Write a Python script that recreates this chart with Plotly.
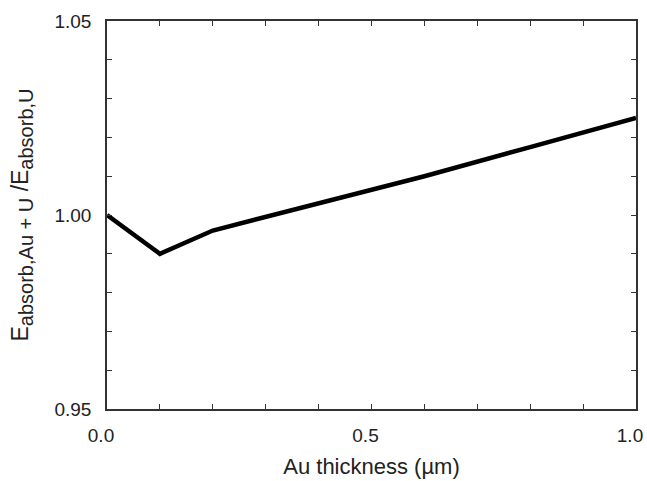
import plotly.graph_objects as go

thickness_um = [0.0, 0.1, 0.2, 0.4, 0.6, 0.8, 1.0]
energy_ratio = [1.000, 0.990, 0.996, 1.003, 1.010, 1.0175, 1.025]

x_tickvals = [0.0, 0.5, 1.0]
x_ticktext = ["0.0", "0.5", "1.0"]
y_tickvals = [0.95, 1.00, 1.05]
y_ticktext = ["0.95", "1.00", "1.05"]

fam = "Liberation Sans, Arial, Helvetica, sans-serif"
tick_font = dict(family=fam, size=19, color="#222")
title_font = dict(family=fam, size=22, color="#222")
ytitle_font = dict(family=fam, size=23, color="#222")

fig = go.Figure()
fig.add_trace(go.Scatter(
    x=thickness_um, y=energy_ratio, mode="lines",
    line=dict(color="black", width=4.5), showlegend=False,
))

axis_common = dict(
    showgrid=False, zeroline=False, showline=True, linecolor="#333", linewidth=1.5,
    mirror="ticks", ticks="inside", ticklen=5, tickwidth=1.2, tickcolor="#333",
    tickfont=tick_font, automargin=False,
)
fig.update_xaxes(
    range=[0, 1.0], tickvals=x_tickvals, ticktext=x_ticktext,
    minor=dict(dtick=0.1, ticks="inside", ticklen=5, tickwidth=1.2, tickcolor="#333"),
    title=dict(text="Au thickness (µm)", font=title_font, standoff=14),
    ticklabelshift=-6, ticklabelstandoff=8,
    **axis_common,
)
fig.update_yaxes(
    range=[0.95, 1.05], tickvals=y_tickvals, ticktext=y_ticktext,
    minor=dict(dtick=0.01, ticks="inside", ticklen=5, tickwidth=1.2, tickcolor="#333"),
    title=dict(
        text="E<sub><span style='font-size:20px'>absorb,Au + U</span></sub> /E<sub><span style='font-size:20px'>absorb,U</span></sub>",
        font=ytitle_font, standoff=19),
    ticklabelstandoff=10,
    **axis_common,
)
fig.update_layout(
    width=647, height=481,
    margin=dict(l=107, r=11, t=21, b=72),
    paper_bgcolor="white", plot_bgcolor="white",
    font=tick_font,
)
fig.write_html(
    "out.html",
    config={"displayModeBar": False},
    post_script="document.body.style.margin='0';document.body.style.overflow='hidden';",
)
